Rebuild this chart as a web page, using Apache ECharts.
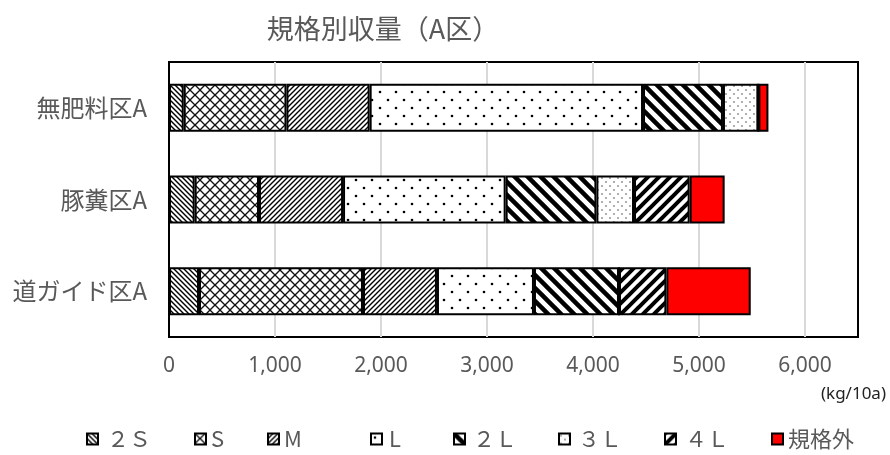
<!DOCTYPE html>
<html><head><meta charset="utf-8">
<script src="https://cdn.jsdelivr.net/npm/echarts@6/dist/echarts.min.js"></script>
<style>html,body{margin:0;padding:0;background:#fff}#c{width:890px;height:455px}</style>
</head><body><div id="c"></div>
<script>
const categories = ['無肥料区A', '豚糞区A', '道ガイド区A'];
const seriesNames = ['２Ｓ', 'S', 'M', 'L', '２Ｌ', '３Ｌ', '４Ｌ', '規格外'];
const s2S  = [139, 242, 283];
const sS   = [969, 607, 1547];
const sM   = [785, 793, 698];
const sL   = [2579, 1534, 915];
const s2L  = [754, 856, 802];
const s3L  = [334, 355, 0];
const s4L  = [0, 525, 447];
const sOut = [95, 330, 796];
const seriesValues = [s2S, sS, sM, sL, s2L, s3L, s4L, sOut];
const xTicks = [0, 1000, 2000, 3000, 4000, 5000, 6000];

function tile(w, h, draw) {
  const c = document.createElement('canvas');
  c.width = w; c.height = h;
  const ctx = c.getContext('2d');
  ctx.fillStyle = '#fff'; ctx.fillRect(0, 0, w, h);
  draw(ctx, w, h);
  return { image: c, repeat: 'repeat' };
}
function lines(ctx, s, lw, dir, color) {
  ctx.strokeStyle = color; ctx.lineWidth = lw; ctx.lineCap = 'square';
  for (let k = -1; k <= 1; k++) {
    ctx.beginPath();
    if (dir === '/') { ctx.moveTo(k * s, s); ctx.lineTo(k * s + s, 0); }
    else { ctx.moveTo(k * s, 0); ctx.lineTo(k * s + s, s); }
    ctx.stroke();
  }
}
function dots(ctx, pts, r, color) {
  ctx.fillStyle = color;
  pts.forEach(p => { ctx.beginPath(); ctx.arc(p[0], p[1], r, 0, Math.PI * 2); ctx.fill(); });
}
const fills = [
  tile(5, 5, (c, w) => lines(c, w, 1.4, '\\', '#000')),
  tile(10, 10, (c, w) => { lines(c, w, 1.3, '/', '#111'); lines(c, w, 1.3, '\\', '#111'); }),
  tile(5, 5, (c, w) => lines(c, w, 1.4, '/', '#000')),
  tile(16, 16, (c) => dots(c, [[4, 4], [12, 12]], 1.3, '#000')),
  tile(13, 13, (c, w) => lines(c, w, 4.5, '\\', '#000')),
  tile(8, 8, (c) => dots(c, [[2, 2], [6, 6]], 0.9, '#8a8a8a')),
  tile(11, 11, (c, w) => lines(c, w, 4, '/', '#000')),
  '#ff0000'
];

const legendLeft = [86, 194, 267, 370, 453, 558, 664, 771];
const legendPad  = [4, 0, 0, 2, 3, 3, 4, 0];

const chart = echarts.init(document.getElementById('c'), null, { renderer: 'canvas' });
const font = '"Noto Sans CJK JP", "Noto Sans", sans-serif';

chart.setOption({
  animation: false,
  backgroundColor: '#fff',
  textStyle: { fontFamily: font },
  title: {
    text: '規格別収量（A区）',
    left: 378, top: 10, textAlign: 'center',
    textStyle: { fontSize: 27, fontWeight: 'normal', color: '#595959', fontFamily: font }
  },
  legend: seriesNames.map((n, i) => ({
    data: [n], left: legendLeft[i], top: 428, padding: 0,
    itemWidth: 11, itemHeight: 11, icon: 'rect', selectedMode: false,
    textStyle: { fontSize: 22, color: '#595959', fontFamily: font, padding: [0, 0, 0, legendPad[i]] }
  })),
  grid: {
    left: 169, right: 32, top: 62, bottom: 118,
    show: true, borderColor: '#000', borderWidth: 2, backgroundColor: '#fff'
  },
  xAxis: {
    type: 'value', min: 0, max: 6500, interval: 1000,
    axisLine: { show: false }, axisTick: { show: false },
    splitLine: { show: true, showMinLine: false, showMaxLine: false, lineStyle: { color: '#d9d9d9', width: 2 } },
    axisLabel: {
      margin: 19, fontSize: 21, color: '#595959', fontFamily: '"Noto Sans", sans-serif',
      showMaxLabel: false,
      formatter: v => xTicks.indexOf(v) >= 0 ? v.toLocaleString('en-US') : ''
    }
  },
  yAxis: {
    type: 'category', data: categories, inverse: true,
    axisLine: { show: false }, axisTick: { show: false }, splitLine: { show: false },
    axisLabel: { margin: 22, fontSize: 24, color: '#595959', fontFamily: font }
  },
  graphic: [{
    type: 'text', right: 4, top: 386,
    style: { text: '(kg/10a)', fontSize: 17, fill: '#222', fontFamily: '"Noto Sans", sans-serif' }
  }],
  series: seriesNames.map((n, i) => ({
    name: n, type: 'bar', stack: 'total', barWidth: 48,
    data: seriesValues[i],
    itemStyle: { color: fills[i], borderColor: '#000', borderWidth: 2 }
  }))
});
</script></body></html>
